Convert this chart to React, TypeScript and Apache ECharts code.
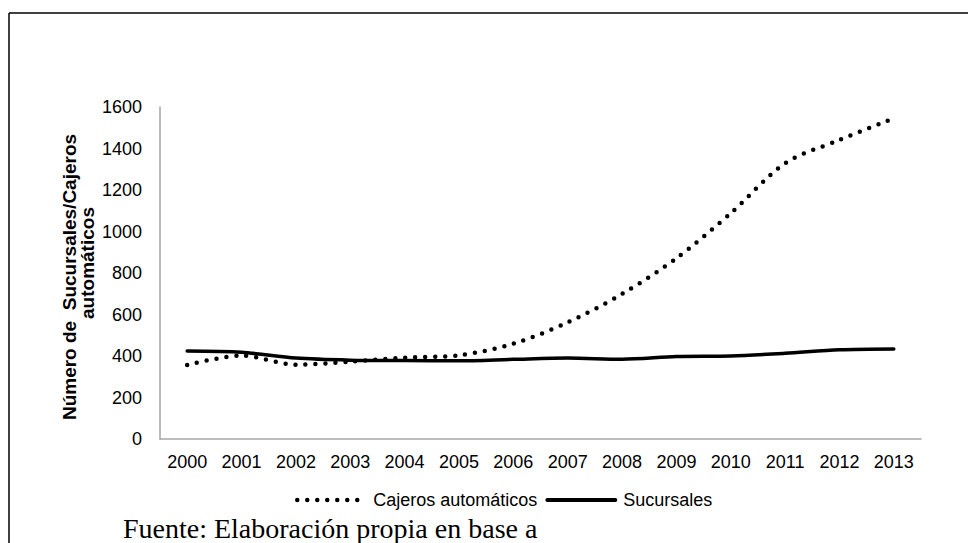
import React, { useEffect, useRef } from "react";
import * as echarts from "echarts";

const years = ["2000","2001","2002","2003","2004","2005","2006","2007","2008","2009","2010","2011","2012","2013"];
const cajeros = [357, 402, 358, 373, 392, 403, 459, 562, 699, 871, 1088, 1329, 1441, 1546];
const sucursales = [424, 418, 390, 380, 378, 377, 384, 390, 384, 397, 400, 413, 430, 434];
const yTicks = { min: 0, max: 1600, interval: 200 };

export default function App() {
  const ref = useRef<HTMLDivElement>(null);
  useEffect(() => {
    if (!ref.current) return;
    const chart = echarts.init(ref.current, null, { renderer: "svg" });
    const font = "Liberation Sans, Arial, sans-serif";
    const dotStyle = { color: "#000", width: 4.5, type: [0, 10], cap: "round" };
    const solidStyle = { color: "#000", width: 3.5, type: "solid", cap: "round" };
    chart.setOption({
      animation: false,
      backgroundColor: "#fff",
      grid: { left: 160, right: 47, top: 107, bottom: 104, containLabel: false },
      xAxis: {
        type: "category",
        data: years,
        boundaryGap: true,
        axisLine: { lineStyle: { color: "#a6a6a6", width: 1.5 } },
        axisTick: { show: false },
        axisLabel: { color: "#000", fontSize: 18, fontFamily: font, margin: 14, interval: 0 },
      },
      yAxis: {
        type: "value",
        min: yTicks.min,
        max: yTicks.max,
        interval: yTicks.interval,
        axisLine: { show: true, lineStyle: { color: "#a6a6a6", width: 1.5 } },
        axisTick: { show: false },
        splitLine: { show: false },
        axisLabel: { color: "#000", fontSize: 18, fontFamily: font, margin: 18, formatter: (v: number) => String(v) },
      },
      legend: {
        left: 290,
        top: 486,
        itemWidth: 68,
        itemHeight: 12,
        itemGap: 8,
        itemStyle: { opacity: 0 },
        textStyle: { color: "#000", fontSize: 18, fontFamily: font, padding: [0, 0, 0, 3] },
        data: [
          { name: "Cajeros automáticos", lineStyle: { width: 4.5, type: [0, 10], cap: "round", color: "#000" } },
          { name: "Sucursales", lineStyle: { width: 4, type: "solid", color: "#000" } },
        ],
      },
      graphic: [
        { type: "line", shape: { x1: 9, y1: 13, x2: 968, y2: 13 }, style: { stroke: "#000", lineWidth: 1.5 } },
        { type: "line", shape: { x1: 9, y1: 13, x2: 9, y2: 543 }, style: { stroke: "#000", lineWidth: 1.5 } },
        {
          type: "text", x: 69, y: 277, rotation: Math.PI / 2,
          style: { text: "Número de  Sucursales/Cajeros", fontSize: 19, fontWeight: "bold", fontFamily: font, fill: "#000", align: "center", verticalAlign: "middle" },
        },
        {
          type: "text", x: 87, y: 263, rotation: Math.PI / 2,
          style: { text: "automáticos", fontSize: 19, fontWeight: "bold", fontFamily: font, fill: "#000", align: "center", verticalAlign: "middle" },
        },
        {
          type: "text", x: 123, y: 542,
          style: { text: "Fuente: Elaboración propia en base a", fontSize: 28, fontFamily: "Liberation Serif, Times New Roman, serif", fill: "#000", align: "left", verticalAlign: "bottom" },
        },
      ],
      series: [
        {
          name: "Cajeros automáticos",
          type: "line",
          data: cajeros,
          smooth: 0.3,
          symbol: "none",
          lineStyle: dotStyle,
          itemStyle: { color: "#000" },
        },
        {
          name: "Sucursales",
          type: "line",
          data: sucursales,
          smooth: 0.3,
          symbol: "none",
          lineStyle: solidStyle,
          itemStyle: { color: "#000" },
        },
      ],
    });
    return () => chart.dispose();
  }, []);
  return <div ref={ref} style={{ position: "fixed", left: 0, top: 0, width: 968, height: 543 }} />;
}
